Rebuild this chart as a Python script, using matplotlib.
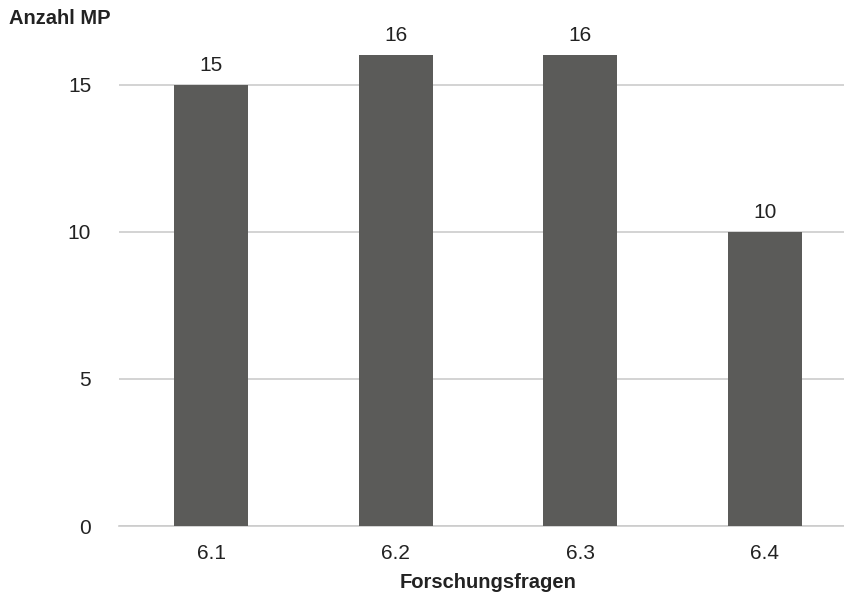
import matplotlib
matplotlib.use("Agg")
import matplotlib.pyplot as plt

categories = ["6.1", "6.2", "6.3", "6.4"]
values = [15, 16, 16, 10]
y_ticks = [0, 5, 10, 15]

plt.rcParams['font.family'] = ['Liberation Sans Narrow', 'Liberation Sans', 'DejaVu Sans']

W, H = 845, 594
fig = plt.figure(figsize=(W / 100, H / 100), dpi=100)
left, right = 119, 857
bottom, top = 526, 26
ax = fig.add_axes([left / W, 1 - bottom / H, (right - left) / W, (bottom - top) / H])

x = range(len(categories))
ax.bar(x, values, width=0.4, color="#5b5b59", zorder=3)
for xi, v in zip(x, values):
    ax.text(xi, v + 0.35, f"{v}", ha="center", va="bottom", fontsize=15, color="#222222")

ax.set_xlim(-0.5, len(categories) - 0.5)
ax.set_ylim(0, 17)
ax.set_yticks(y_ticks)
ax.set_yticklabels([str(t) for t in y_ticks], fontsize=15, color="#222222")
ax.set_xticks(list(x))
ax.set_xticklabels(categories, fontsize=15, color="#222222")
ax.tick_params(axis="both", length=0)
ax.tick_params(axis="y", pad=20)
ax.tick_params(axis="x", pad=13)
ax.yaxis.grid(True, color="#cccccc", linewidth=1.2, zorder=0)
for s in ["top", "right", "left"]:
    ax.spines[s].set_visible(False)
ax.spines["bottom"].set_color("#cccccc")
ax.spines["bottom"].set_linewidth(1.2)

fig.text(488 / W, 1 - 583 / H, "Forschungsfragen", ha="center", va="center",
         fontsize=14.5, fontweight="bold", color="#222222")
fig.text(9 / W, 1 - 19 / H, "Anzahl MP", ha="left", va="center",
         fontsize=14.5, fontweight="bold", color="#222222")

fig.savefig("out.png", dpi=100)
